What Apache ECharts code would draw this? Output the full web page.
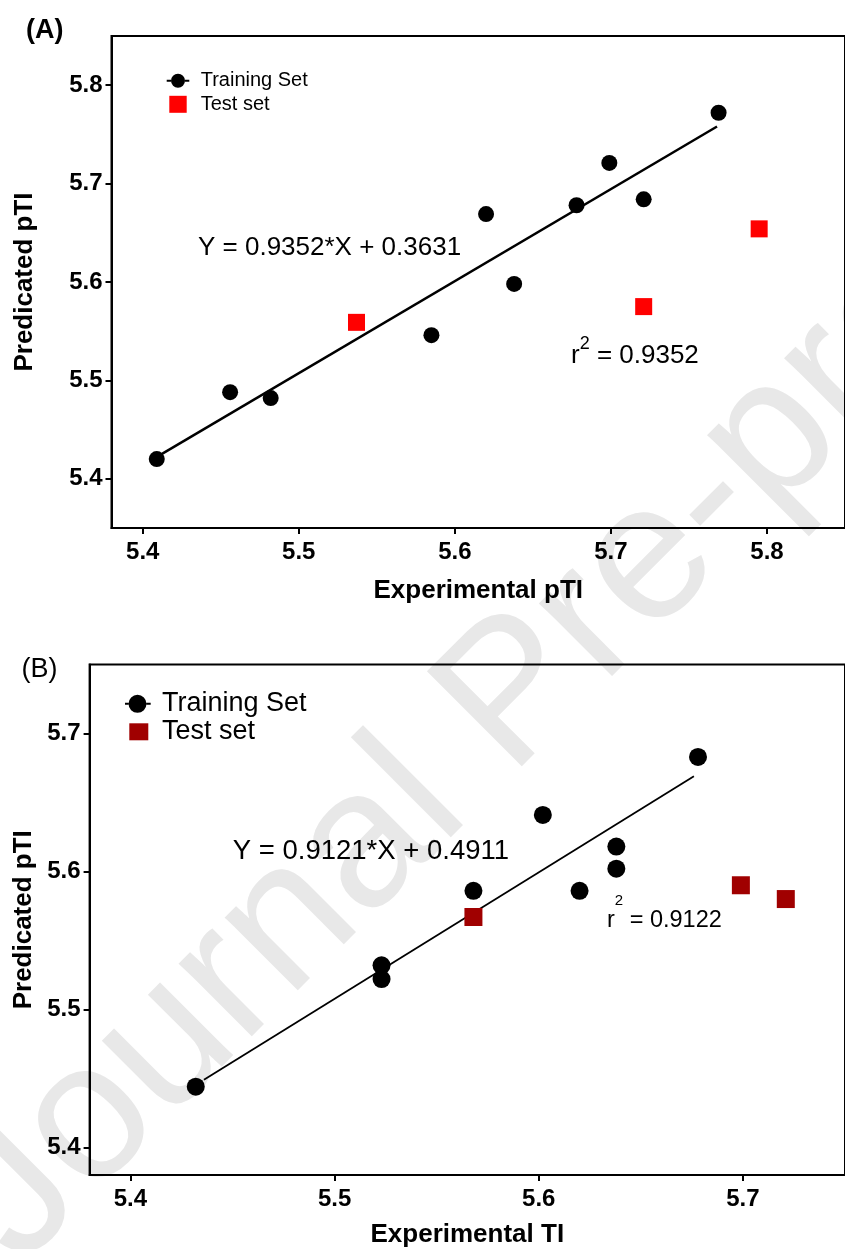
<!DOCTYPE html>
<html>
<head>
<meta charset="utf-8">
<script src="https://cdn.jsdelivr.net/npm/echarts@6/dist/echarts.min.js"></script>
<style>
html,body{margin:0;padding:0;background:#fff;}
#chart{width:845px;height:1249px;}
</style>
</head>
<body>
<div id="chart"></div>
<script>
// ---------- data ----------
var trainingA = [[5.409,5.420],[5.456,5.488],[5.482,5.482],[5.585,5.546],[5.620,5.669],[5.638,5.598],[5.678,5.678],[5.699,5.721],[5.721,5.684],[5.769,5.772]];
var testA = [[5.537,5.559],[5.721,5.575],[5.795,5.654]];
var fitA = [[5.411,5.424],[5.768,5.758]];
var trainingB = [[5.432,5.444],[5.523,5.532],[5.523,5.522],[5.568,5.586],[5.602,5.641],[5.620,5.586],[5.638,5.618],[5.638,5.602],[5.678,5.683]];
var testB = [[5.568,5.567],[5.699,5.590],[5.721,5.580]];
var fitB = [[5.436,5.449],[5.676,5.669]];
var xTicksA = [5.4,5.5,5.6,5.7,5.8];
var yTicksA = [5.4,5.5,5.6,5.7,5.8];
var xTicksB = [5.4,5.5,5.6,5.7];
var yTicksB = [5.4,5.5,5.6,5.7];
var seriesNames = ['Training Set','Test set'];
var labelsA = {panel:'(A)', x:'Experimental pTI', y:'Predicated pTI', eq:'Y = 0.9352*X + 0.3631', r2:'0.9352'};
var labelsB = {panel:'(B)', x:'Experimental TI', y:'Predicated pTI', eq:'Y = 0.9121*X + 0.4911', r2:'0.9122'};
var watermark = 'Journal Pre-proof';

var FONT = "'Liberation Sans', Arial, Helvetica, sans-serif";
var chart = echarts.init(document.getElementById('chart'), null, {renderer:'canvas', width:845, height:1249});

function fmt(v){ return v.toFixed(1); }

function xAxisCfg(grid, min, max, ticks, name, gap){
  return {
    type:'value', gridIndex:grid, min:min, max:max,
    name:name, nameLocation:'middle', nameGap:gap,
    nameTextStyle:{fontFamily:FONT, fontSize:26, fontWeight:'bold', color:'#000'},
    axisLine:{show:true, onZero:false, lineStyle:{color:'#000', width:2}},
    axisTick:{show:true, length:6, customValues:ticks, lineStyle:{color:'#000', width:2}},
    axisLabel:{customValues:ticks, formatter:fmt, margin:12, fontFamily:FONT, fontSize:24, fontWeight:'bold', color:'#000'},
    splitLine:{show:false}
  };
}
function yAxisCfg(grid, min, max, ticks, name, gap){
  return {
    type:'value', gridIndex:grid, min:min, max:max,
    name:name, nameLocation:'middle', nameGap:gap,
    nameTextStyle:{fontFamily:FONT, fontSize:26, fontWeight:'bold', color:'#000'},
    axisLine:{show:true, onZero:false, lineStyle:{color:'#000', width:2}},
    axisTick:{show:true, length:6, customValues:ticks, lineStyle:{color:'#000', width:2}},
    axisLabel:{customValues:ticks, formatter:fmt, margin:9, fontFamily:FONT, fontSize:24, fontWeight:'bold', color:'#000'},
    splitLine:{show:false}
  };
}

// legend icon paths (padded with move-to points to keep the box)
var circleIconA = 'path://M0,0 M29,17 M0,7.5 L4.3,7.5 L4.3,9.5 L0,9.5 Z M18.3,7.5 L22.6,7.5 L22.6,9.5 L18.3,9.5 Z M4.3,8.5 A7,7 0 1,1 18.3,8.5 A7,7 0 1,1 4.3,8.5 Z';
var squareIconA = 'path://M0,0 M29,17 M2.6,0 L20,0 L20,17 L2.6,17 Z';
var circleIconB = 'path://M0,0 M32,18 M0,8 L3.5,8 L3.5,10 L0,10 Z M21.5,8 L25.7,8 L25.7,10 L21.5,10 Z M3.5,9 A9,9 0 1,1 21.5,9 A9,9 0 1,1 3.5,9 Z';
var squareIconB = 'path://M0,0 M32,18 M4.3,0.5 L23.3,0.5 L23.3,17.5 L4.3,17.5 Z';

var option = {
  animation:false,
  backgroundColor:'#fff',
  grid:[
    {left:111.5, top:36, width:741, height:492, show:true, borderColor:'#000', borderWidth:2, backgroundColor:'transparent', containLabel:false},
    {left:89.6, top:664.5, width:766, height:511, show:true, borderColor:'#000', borderWidth:2, backgroundColor:'transparent', containLabel:false}
  ],
  xAxis:[
    xAxisCfg(0, 5.38, 5.85, xTicksA, labelsA.x, 50),
    xAxisCfg(1, 5.38, 5.75, xTicksB, labelsB.x, 47)
  ],
  yAxis:[
    yAxisCfg(0, 5.35, 5.85, yTicksA, labelsA.y, 74),
    yAxisCfg(1, 5.38, 5.75, yTicksB, labelsB.y, 53)
  ],
  legend:[
    {
      orient:'vertical', left:166.7, top:70.7, padding:0, itemGap:3.6,
      itemWidth:29, itemHeight:17, selectedMode:false,
      textStyle:{fontFamily:FONT, fontSize:20, color:'#000'},
      data:[
        {name:seriesNames[0], icon:circleIconA, itemStyle:{color:'#000'}},
        {name:seriesNames[1], icon:squareIconA, itemStyle:{color:'#ff0000'}}
      ]
    },
    {
      orient:'vertical', left:125, top:690.3, padding:0, itemGap:1,
      itemWidth:32, itemHeight:18, selectedMode:false,
      textStyle:{fontFamily:FONT, fontSize:27, color:'#000'},
      data:[
        {name:seriesNames[0], icon:circleIconB, itemStyle:{color:'#000'}},
        {name:seriesNames[1], icon:squareIconB, itemStyle:{color:'#a00000'}}
      ]
    }
  ],
  graphic:[
    {type:'text', z:-10, x:-18, y:1230, rotation:45*Math.PI/180, silent:true,
      style:{text:watermark, fill:'#e8e8e8', font:'normal 195px ' + FONT, textAlign:'left', verticalAlign:'middle'}},
    {type:'text', x:26, y:31, style:{text:labelsA.panel, fill:'#000', font:'bold 27px ' + FONT, textAlign:'left', verticalAlign:'middle'}},
    {type:'text', x:21.5, y:670, style:{text:labelsB.panel, fill:'#000', font:'normal 27px ' + FONT, textAlign:'left', verticalAlign:'middle'}},
    {type:'text', x:198, y:248, style:{text:labelsA.eq, fill:'#000', font:'normal 26px ' + FONT, textAlign:'left', verticalAlign:'middle'}},
    {type:'text', x:232.8, y:851, style:{text:labelsB.eq, fill:'#000', font:'normal 27.5px ' + FONT, textAlign:'left', verticalAlign:'middle'}},
    {type:'text', x:571, y:356, style:{
      text:'{m|r}{s|2}{m| = ' + labelsA.r2 + '}', fill:'#000', textAlign:'left', verticalAlign:'middle',
      rich:{
        m:{fontFamily:FONT, fontSize:26, lineHeight:42, fill:'#000', color:'#000'},
        s:{fontFamily:FONT, fontSize:18, lineHeight:18, verticalAlign:'top', fill:'#000', color:'#000'}
      }}},
    {type:'text', x:607, y:921, style:{
      text:'{m|r}{s|2}{m| = ' + labelsB.r2 + '}', fill:'#000', textAlign:'left', verticalAlign:'middle',
      rich:{
        m:{fontFamily:FONT, fontSize:23.5, lineHeight:56, fill:'#000', color:'#000'},
        s:{fontFamily:FONT, fontSize:15, lineHeight:15, verticalAlign:'top', fill:'#000', color:'#000'}
      }}}
  ],
  series:[
    {type:'line', name:'fitA', xAxisIndex:0, yAxisIndex:0, data:fitA, showSymbol:false, symbol:'none', silent:true,
      lineStyle:{color:'#000', width:2.5}, z:1},
    {type:'scatter', name:seriesNames[0], xAxisIndex:0, yAxisIndex:0, data:trainingA, symbol:'circle', symbolSize:16,
      itemStyle:{color:'#000', opacity:1}, z:3},
    {type:'scatter', name:seriesNames[1], xAxisIndex:0, yAxisIndex:0, data:testA, symbol:'rect', symbolSize:17,
      itemStyle:{color:'#ff0000', opacity:1}, z:3},
    {type:'line', name:'fitB', xAxisIndex:1, yAxisIndex:1, data:fitB, showSymbol:false, symbol:'none', silent:true,
      lineStyle:{color:'#000', width:1.8}, z:1},
    {type:'scatter', name:seriesNames[0], xAxisIndex:1, yAxisIndex:1, data:trainingB, symbol:'circle', symbolSize:18,
      itemStyle:{color:'#000', opacity:1}, z:3},
    {type:'scatter', name:seriesNames[1], xAxisIndex:1, yAxisIndex:1, data:testB, symbol:'rect', symbolSize:18,
      itemStyle:{color:'#a00000', opacity:1}, z:3}
  ]
};
chart.setOption(option);
</script>
</body>
</html>
